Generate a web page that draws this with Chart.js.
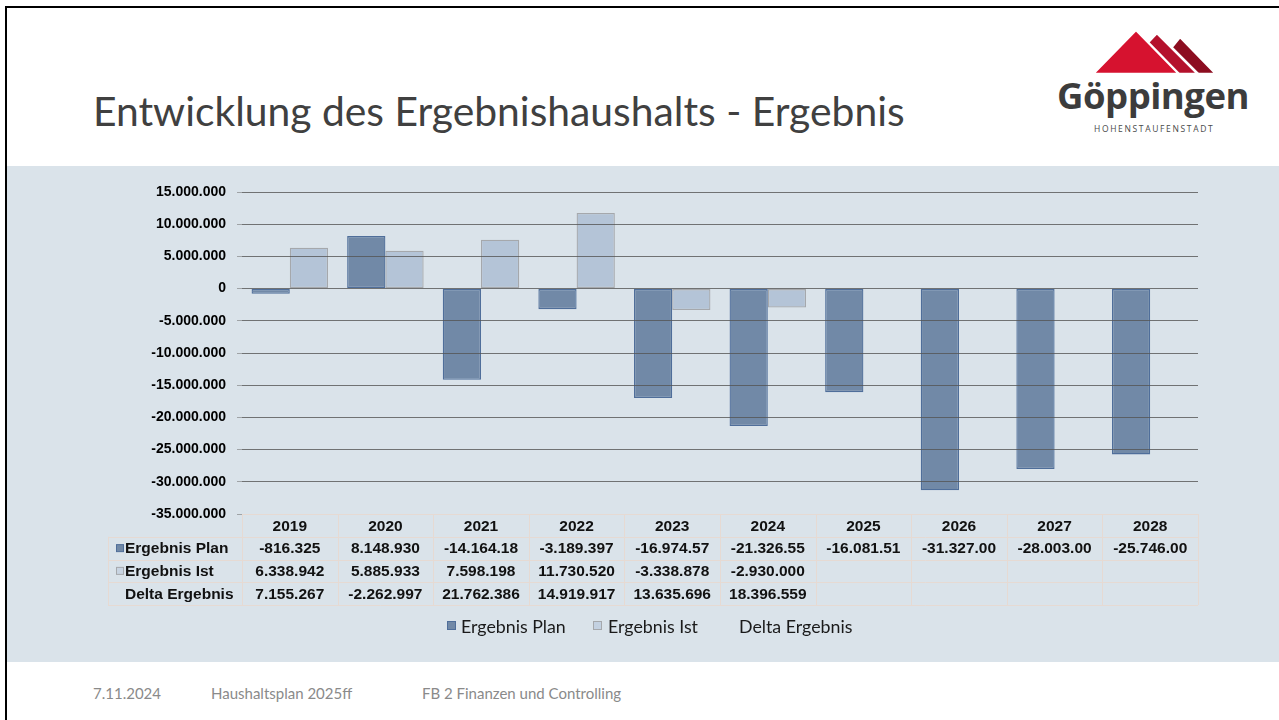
<!DOCTYPE html>
<html><head><meta charset="utf-8">
<script src="https://cdn.jsdelivr.net/npm/chart.js@4.4.1/dist/chart.umd.min.js"></script>
<style>
html,body{margin:0;padding:0;background:#fff;width:1279px;height:720px;overflow:hidden;position:relative;font-family:Lato,'Noto Sans',sans-serif;}
#frame{position:absolute;left:5px;top:6px;width:1290px;height:730px;border-left:2px solid #000;border-top:2px solid #000;}
#panel{position:absolute;left:7px;top:166px;width:1272px;height:496px;background:#dae3ea;}
#wrap{position:absolute;left:0;top:166px;width:1279px;height:496px;}
#title{position:absolute;left:93px;top:91px;font-size:40.8px;color:#404040;white-space:nowrap;line-height:1;}
#logo{position:absolute;left:1040px;top:20px;width:230px;height:130px;}
#logoName{position:absolute;left:1057px;top:77px;font-family:'Open Sans',sans-serif;font-weight:700;font-size:36.5px;color:#3c3c3c;letter-spacing:-0.5px;line-height:1;white-space:nowrap;}
#logoSub{position:absolute;left:1094px;top:125px;font-family:'Open Sans',sans-serif;font-size:8.5px;color:#4a4a4a;letter-spacing:1.65px;line-height:1;white-space:nowrap;}
.leg{position:absolute;top:616px;font-size:17.8px;color:#1a1a1a;line-height:20px;white-space:nowrap;}
.sw{position:absolute;top:621px;width:9px;height:9px;}
.foot{position:absolute;top:684px;font-size:15px;color:#8a8a8a;line-height:18px;white-space:nowrap;}
</style></head>
<body>
<div id="frame"></div>
<div id="title">Entwicklung des Ergebnishaushalts - Ergebnis</div>
<svg id="logo" viewBox="1040 20 230 130" xmlns="http://www.w3.org/2000/svg">
  <polygon points="1180,37 1216,74 1150,74" fill="#8c0d20" stroke="#fff" stroke-width="2.5" stroke-linejoin="round"/>
  <polygon points="1157,33 1198,74 1118,74" fill="#b4112c" stroke="#fff" stroke-width="2.5" stroke-linejoin="round"/>
  <polygon points="1136,30 1179,74 1093,74" fill="#d6122f" stroke="#fff" stroke-width="2.5" stroke-linejoin="round"/>
</svg>
<div id="logoName">Göppingen</div>
<div id="logoSub">HOHENSTAUFENSTADT</div>
<div id="panel"></div>
<div id="wrap"><canvas id="c"></canvas></div>
<div class="sw" style="left:447px;background:#7189a7;border:1px solid #4f6e9a;box-sizing:border-box;"></div>
<div class="leg" style="left:461px;">Ergebnis Plan</div>
<div class="sw" style="left:593px;background:#c3d1e1;border:1px solid #a5a8ac;box-sizing:border-box;"></div>
<div class="leg" style="left:608px;">Ergebnis Ist</div>
<div class="leg" style="left:739px;">Delta Ergebnis</div>
<div class="foot" style="left:93px;">7.11.2024</div>
<div class="foot" style="left:211px;">Haushaltsplan 2025ff</div>
<div class="foot" style="left:422px;">FB 2 Finanzen und Controlling</div>
<script>
const years = ['2019','2020','2021','2022','2023','2024','2025','2026','2027','2028'];
const ergebnisPlan = [-816325, 8148930, -14164180, -3189397, -16974570, -21326550, -16081510, -31327000, -28003000, -25746000];
const ergebnisIst = [6338942, 5885933, 7598198, 11730520, -3338878, -2930000, null, null, null, null];
const deltaErgebnis = [7155267, -2262997, 21762386, 14919917, 13635696, 18396559, null, null, null, null];
const rowLabels = ['Ergebnis Plan', 'Ergebnis Ist', 'Delta Ergebnis'];
const yMin = -35000000, yMax = 15000000, yStep = 5000000;

const PLAN_FILL = '#7189a7', PLAN_LINE = '#4f6e9a';
const IST_FILL = '#b4c4d7', IST_LINE = '#a5a8ac';
const TABLE_LINE = '#e6dad3';

function fmt(v){
  const neg = v < 0;
  const s = Math.round(Math.abs(v)).toString().replace(/\B(?=(\d{3})+(?!\d))/g, '.');
  return (neg ? '-' : '') + s;
}
function cellText(v){ return v === null ? '' : fmt(v).slice(0, 10); }

const tablePlugin = {
  id: 'dataTable',
  afterDraw(chart){
    const {ctx, chartArea, scales:{x}} = chart;
    const top = chartArea.bottom;
    const rowH = 22.75;
    const colW = x.getPixelForValue(1) - x.getPixelForValue(0);
    const left = chartArea.left, right = chartArea.right;
    const labelLeft = 108;
    const bottom = top + rowH * 4;
    ctx.save();
    ctx.strokeStyle = TABLE_LINE;
    ctx.lineWidth = 1;
    ctx.beginPath();
    ctx.moveTo(left, top + 0.5); ctx.lineTo(right, top + 0.5);
    for (let r = 1; r <= 4; r++){
      const yy = Math.round(top + rowH * r) + 0.5;
      ctx.moveTo(labelLeft, yy); ctx.lineTo(right, yy);
    }
    for (let i = 0; i <= years.length; i++){
      const xx = Math.round(left + colW * i) + 0.5;
      ctx.moveTo(xx, top); ctx.lineTo(xx, bottom);
    }
    ctx.moveTo(labelLeft + 0.5, top + rowH); ctx.lineTo(labelLeft + 0.5, bottom);
    ctx.stroke();

    ctx.fillStyle = '#111';
    ctx.font = "bold 15.5px 'Liberation Sans', Arial, sans-serif";
    ctx.textAlign = 'center';
    ctx.textBaseline = 'middle';
    const rows = [ergebnisPlan, ergebnisIst, deltaErgebnis];
    years.forEach((yr, i) => {
      const cx = x.getPixelForValue(i);
      ctx.fillText(yr, cx, top + rowH * 0.5 + 1);
      rows.forEach((arr, r) => {
        ctx.fillText(cellText(arr[i]), cx, top + rowH * (r + 1.5) + 1);
      });
    });
    ctx.textAlign = 'left';
    rowLabels.forEach((lab, r) => {
      const cy = top + rowH * (r + 1.5) + 1;
      ctx.fillStyle = '#111';
      ctx.fillText(lab, 125, cy);
      if (r < 2){
        ctx.fillStyle = r === 0 ? PLAN_FILL : '#c8d4e2';
        ctx.strokeStyle = r === 0 ? PLAN_LINE : IST_LINE;
        ctx.fillRect(116.5, cy - 4.5, 7, 7);
        ctx.strokeRect(116.5, cy - 4.5, 7, 7);
      }
    });
    ctx.restore();
  }
};

new Chart(document.getElementById('c'), {
  type: 'bar',
  data: {
    labels: years,
    datasets: [
      {label: 'Ergebnis Plan', data: ergebnisPlan, backgroundColor: PLAN_FILL, borderColor: PLAN_LINE, borderWidth: 1.3, borderSkipped: false, barPercentage: 1, categoryPercentage: 0.8},
      {label: 'Ergebnis Ist', data: ergebnisIst, backgroundColor: IST_FILL, borderColor: IST_LINE, borderWidth: 1.3, borderSkipped: false, barPercentage: 1, categoryPercentage: 0.8}
    ]
  },
  options: {
    responsive: true,
    maintainAspectRatio: false,
    animation: false,
    layout: {padding: {left: 0, top: 26, right: 81, bottom: 0}},
    plugins: {legend: {display: false}, tooltip: {enabled: false}},
    scales: {
      x: {
        grid: {display: false},
        border: {display: false},
        ticks: {display: false},
        afterFit(s){ s.height = 148; }
      },
      y: {
        min: yMin, max: yMax,
        afterFit(s){ s.width = 242; },
        border: {display: false},
        grid: {
          z: 1,
          color: c => (c.tick && c.tick.value === yMin) ? TABLE_LINE : 'rgba(85,85,85,0.8)',
          tickColor: 'rgba(120,120,120,0.6)',
          tickLength: 5,
          lineWidth: 1
        },
        ticks: {
          stepSize: yStep,
          padding: 11,
          color: '#000',
          font: {family: "'Liberation Sans', Arial, sans-serif", size: 14, weight: 'bold'},
          callback: v => fmt(v)
        }
      }
    }
  },
  plugins: [tablePlugin]
});
</script>
</body></html>
